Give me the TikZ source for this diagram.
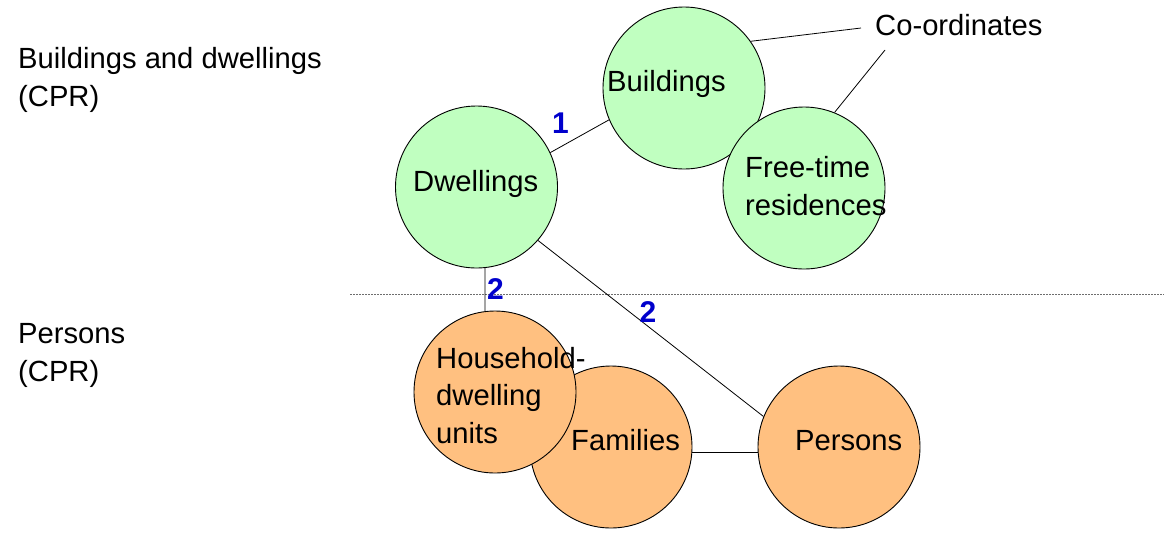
\documentclass[tikz,border=0pt]{standalone}
\usepackage{fontspec}
\setmainfont{Liberation Sans}
\definecolor{greenfill}{RGB}{192,255,192}
\definecolor{orangefill}{RGB}{255,192,128}
\definecolor{numblue}{RGB}{0,0,204}
\definecolor{sepgray}{RGB}{110,110,110}
\begin{document}
\begin{tikzpicture}[x=1pt,y=-1pt,
  blob/.style={circle, draw=black, line width=0.9pt, inner sep=0pt, minimum size=162pt},
  house/.style={blob, fill=greenfill},
  folk/.style={blob, fill=orangefill},
  txt/.style={anchor=base west, inner sep=0pt, font=\fontsize{29.2}{37.5}\selectfont},
  num/.style={inner sep=0pt, text=numblue, font=\fontsize{30}{36}\selectfont\bfseries},
  link/.style={draw=black, line width=0.8pt},
  sepline/.style={draw=sepgray, line width=1pt, dash pattern=on 2pt off 1pt}]
\useasboundingbox (0,0) rectangle (1164,547);

% register level: buildings and dwellings
\node[house] (bu) at (684,88) {};
\node[house] (ft) at (804,188) {};
\node[house] (dw) at (476.5,187) {};

% register level: persons
\node[folk] (fa) at (611,447) {};
\node[folk] (hh) at (495,392) {};
\node[folk] (pe) at (839,447) {};

% boundary between the two registers
\coordinate (sepL) at (350,294);
\coordinate (sepR) at (1164,294);
\draw[sepline] (sepL) -- (sepR);

% circle labels
\node[txt] (tbu) at (607,91) {Buildings};
\node[txt] (tdw) at (413,191) {Dwellings};
\node[txt] (tft1) at (745,177) {Free-time};
\node[txt] (tft2) at (745,215) {residences};
\node[txt] (thh1) at (436,368) {Household-};
\node[txt] (thh2) at (436,405.5) {dwelling};
\node[txt] (thh3) at (436,443) {units};
\node[txt] (tfa) at (571,450) {Families};
\node[txt] (tpe) at (795,450) {Persons};

% side headings
\node[txt] (h1a) at (18,68) {Buildings and dwellings};
\node[txt] (h1b) at (18,106) {(CPR)};
\node[txt] (h2a) at (18,343) {Persons};
\node[txt] (h2b) at (18,381) {(CPR)};

% co-ordinates callout
\node[txt] (co) at (875,35) {Co-ordinates};
\coordinate (co1) at (861,28);
\coordinate (co2) at (885,50);
\draw[link] (bu.35) -- (co1);
\draw[link] (ft.68) -- (co2);

% links between registers
\draw[link] (dw.25) -- (bu.203.5);
\draw[link] (dw.-84) -- (hh.97);
\draw[link] (dw.-41.4) -- (pe.158.5);
\draw[link] (fa.-4) -- (pe.184);

% link numbers
\node[num] (n1) at (560.5,123) {1};
\node[num] (n2a) at (495.5,289.5) {2};
\node[num] (n2b) at (648,312) {2};
\end{tikzpicture}
\end{document}
